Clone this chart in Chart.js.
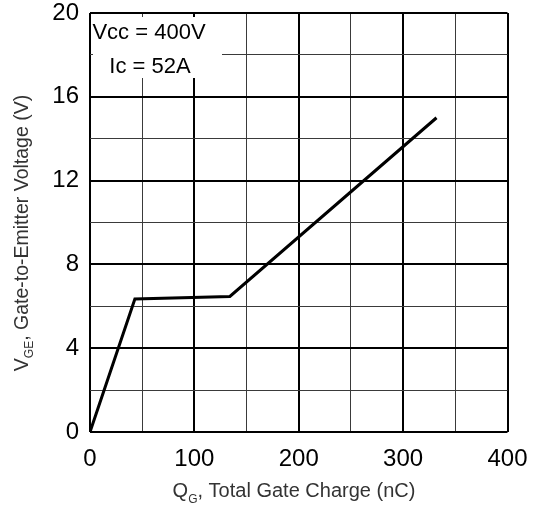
<!DOCTYPE html>
<html>
<head>
<meta charset="utf-8">
<script src="https://cdn.jsdelivr.net/npm/chart.js@4/dist/chart.umd.min.js"></script>
<style>
  html, body { margin: 0; padding: 0; background: #fff; }
  #wrap { width: 535px; height: 511px; }
</style>
</head>
<body>
<div id="wrap"><canvas id="c" width="535" height="511"></canvas></div>
<script>
// Gate charge curve: V_GE versus Q_G
const chargeNC = [0, 43, 134, 332];
const gateVolts = [0, 6.35, 6.47, 15.0];

// Labelled ticks (grid lines are drawn every 50 nC and every 2 V)
const xTickLabels = [0, 100, 200, 300, 400];
const yTickLabels = [0, 4, 8, 12, 16, 20];

const conditionLines = ['Vcc = 400V', 'Ic = 52A'];

const FONT = "'Liberation Sans', Arial, sans-serif";

// Draws text with a subscript run: parts = [[text, isSub], ...]
function drawRich(ctx, parts, size, cx, cy) {
  const subSize = Math.round(size * 0.62);
  let total = 0;
  const widths = parts.map(([t, sub]) => {
    ctx.font = (sub ? subSize : size) + 'px ' + FONT;
    const w = ctx.measureText(t).width;
    total += w;
    return w;
  });
  let x = cx - total / 2;
  ctx.textBaseline = 'alphabetic';
  ctx.textAlign = 'left';
  parts.forEach(([t, sub], i) => {
    ctx.font = (sub ? subSize : size) + 'px ' + FONT;
    ctx.fillText(t, x, cy + size * 0.35 + (sub ? size * 0.28 : 0));
    x += widths[i];
  });
}

const decorations = {
  id: 'decorations',
  beforeDatasetsDraw(chart) {
    const { ctx, chartArea: a } = chart;
    ctx.save();
    // condition legend box in the upper-left corner of the plot
    ctx.fillStyle = '#fff';
    ctx.fillRect(a.left + 3, a.top + 4, 129, 61);
    ctx.fillStyle = '#000';
    ctx.font = '22px ' + FONT;
    ctx.textAlign = 'center';
    ctx.textBaseline = 'middle';
    ctx.fillText(conditionLines[0], a.left + 59, a.top + 20);
    ctx.fillText(conditionLines[1], a.left + 60, a.top + 54);
    ctx.restore();
  },
  afterDraw(chart) {
    const { ctx } = chart;
    ctx.save();
    ctx.fillStyle = '#333';
    drawRich(ctx, [['Q', false], ['G', true], [', Total Gate Charge (nC)', false]], 20, 294, 490);
    ctx.translate(21, 233);
    ctx.rotate(-Math.PI / 2);
    drawRich(ctx, [['V', false], ['GE', true], [', Gate-to-Emitter Voltage (V)', false]], 19.5, 0, 0);
    ctx.restore();
  }
};

new Chart(document.getElementById('c'), {
  type: 'line',
  data: {
    datasets: [{
      data: chargeNC.map((q, i) => ({ x: q, y: gateVolts[i] })),
      borderColor: '#000',
      borderWidth: 3,
      pointRadius: 0,
      tension: 0,
      fill: false
    }]
  },
  options: {
    responsive: false,
    animation: false,
    events: [],
    layout: { padding: { left: 0, right: 27.5, top: 13, bottom: 0 } },
    plugins: { legend: { display: false }, tooltip: { enabled: false } },
    scales: {
      x: {
        type: 'linear',
        min: 0, max: 400,
        border: { display: false },
        grid: {
          drawTicks: false,
          color: ctx => (ctx.tick.value % 100 === 0 ? '#000' : '#3a3a3a'),
          lineWidth: ctx => (ctx.tick.value % 100 === 0 ? 2 : 1)
        },
        ticks: {
          stepSize: 50,
          autoSkip: false,
          maxRotation: 0,
          padding: 13,
          color: '#000',
          font: { family: FONT, size: 24 },
          callback: v => (xTickLabels.includes(v) ? String(v) : '')
        },
        afterFit: s => { s.height = 79; s.paddingLeft = 0; s.paddingRight = 0; }
      },
      y: {
        type: 'linear',
        min: 0, max: 20,
        border: { display: false },
        grid: {
          drawTicks: false,
          color: ctx => (ctx.tick.value % 4 === 0 ? '#000' : '#3a3a3a'),
          lineWidth: ctx => (ctx.tick.value % 4 === 0 ? 2 : 1)
        },
        ticks: {
          stepSize: 2,
          autoSkip: false,
          padding: 11,
          color: '#000',
          font: { family: FONT, size: 24 },
          callback: v => (yTickLabels.includes(v) ? String(v) : '')
        },
        afterFit: s => { s.width = 90; s.paddingTop = 0; s.paddingBottom = 0; }
      }
    }
  },
  plugins: [decorations]
});
</script>
</body>
</html>
